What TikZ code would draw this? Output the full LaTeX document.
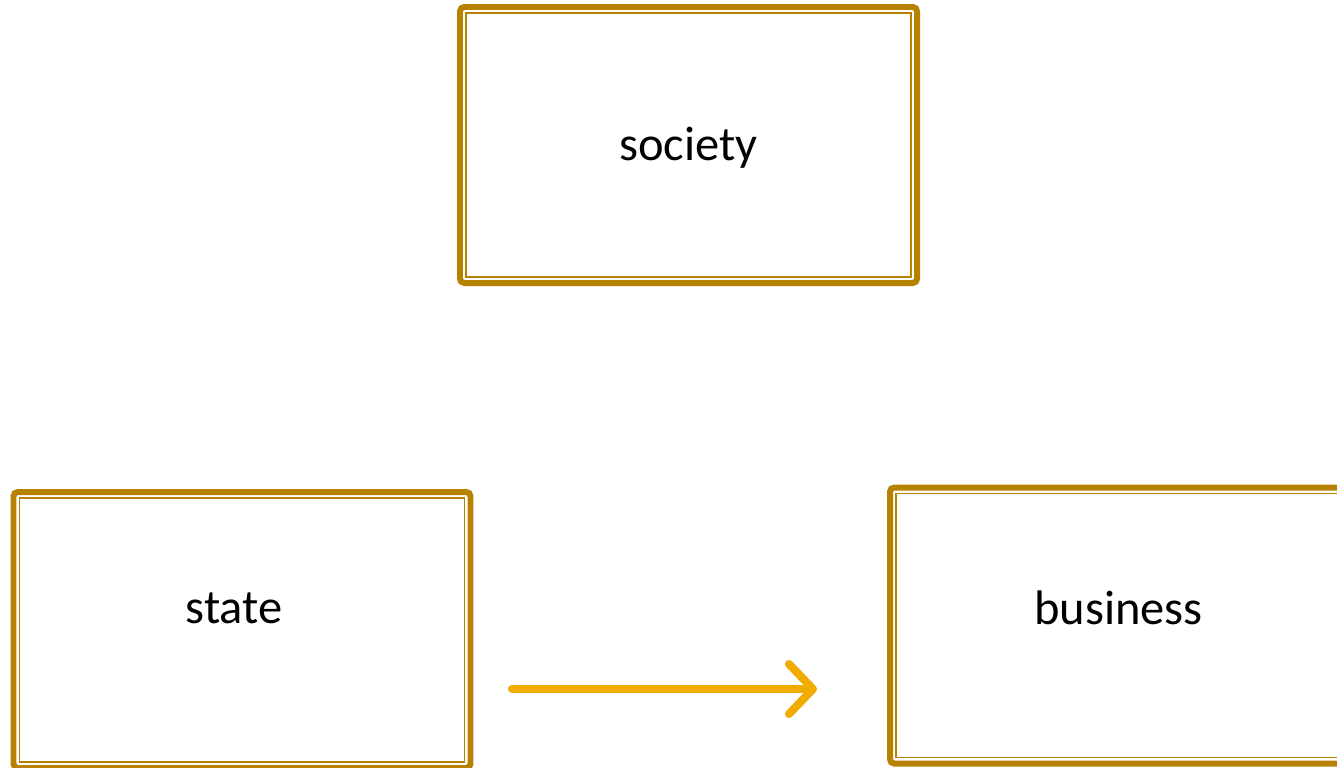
\documentclass[tikz,border=0pt]{standalone}
\usepackage{fontspec}
\setmainfont{Carlito}
\usetikzlibrary{positioning,arrows.meta}
\definecolor{boxgold}{RGB}{182,130,0}
\definecolor{flowgold}{RGB}{240,172,0}

\begin{document}
\begin{tikzpicture}[
  sector/.style ={draw=boxgold,line width=1.7pt,rounded corners=1.2pt,
                  minimum width=4.57cm,minimum height=2.76cm,inner sep=0pt,outer sep=0pt},
  inner/.style  ={draw=boxgold,line width=0.55pt},
  tag/.style    ={font=\fontsize{13.8}{16}\selectfont,inner sep=0pt},
  flow/.style   ={draw=flowgold,line width=2.3pt,line cap=round,
                  -{Straight Barb[length=2.4mm,width=5mm,round]}}]
\useasboundingbox (0,0) rectangle (13.37,-7.67);
% --- the three sectors ---
\node[sector] (society)  at (6.885,-1.45) {};
\node[sector] (state)    at (2.42,-6.30)  {};
\node[sector] (business) at (11.185,-6.255) {};
% thin inner frame of each box
\foreach \n in {society,state,business}
  \draw[inner] ([shift={(0.06,-0.06)}]\n.north west) rectangle ([shift={(-0.06,0.06)}]\n.south east);
% --- labels ---
\node[tag] (societyTag)  at ([yshift=-0.03cm]society.center) {society};
\node[tag] (stateTag)    at ([xshift=-0.08cm,yshift=0.22cm]state.center) {state};
\node[tag] (businessTag) at ([yshift=0.175cm]business.center) {business};
% --- flow from state to business ---
\coordinate (flowStart) at (5.12,-6.89);
\coordinate (flowEnd)   at (8.17,-6.89);
\draw[flow] (flowStart) -- (flowEnd);
\end{tikzpicture}
\end{document}
